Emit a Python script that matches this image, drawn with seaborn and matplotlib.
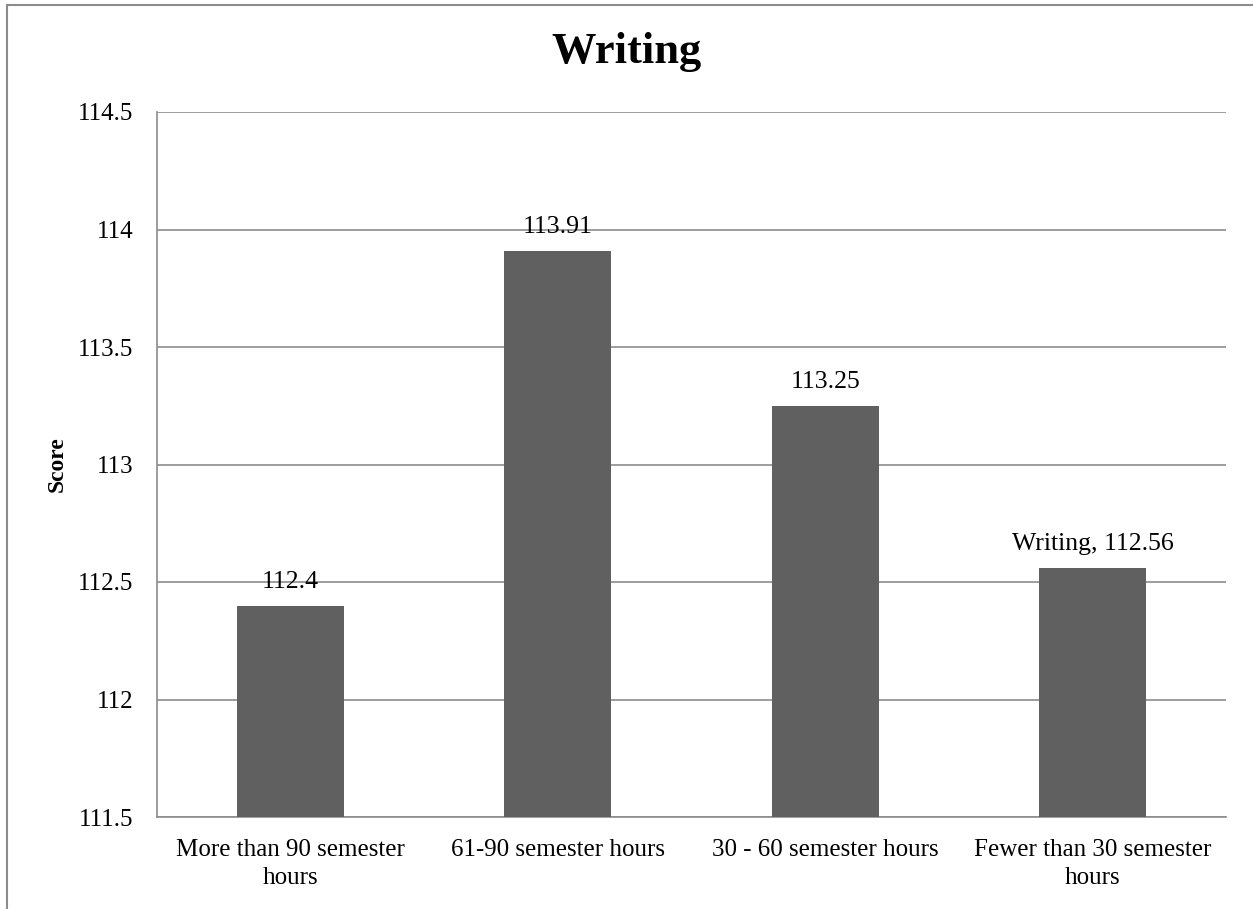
import matplotlib
matplotlib.use("Agg")
import matplotlib.pyplot as plt
from matplotlib.lines import Line2D
import seaborn as sns
import pandas as pd

categories = ["More than 90 semester\nhours", "61-90 semester hours",
              "30 - 60 semester hours", "Fewer than 30 semester\nhours"]
scores = [112.4, 113.91, 113.25, 112.56]
value_labels = ["112.4", "113.91", "113.25", "Writing, 112.56"]
y_ticks = [111.5, 112, 112.5, 113, 113.5, 114, 114.5]
y_tick_labels = ["111.5", "112", "112.5", "113", "113.5", "114", "114.5"]

sns.set_theme(style="white")
plt.rcParams["font.family"] = ["Liberation Serif", "DejaVu Serif"]
plt.rcParams["text.color"] = "black"

df = pd.DataFrame({"category": categories, "score": scores})

fig = plt.figure(figsize=(12.53, 9.09), dpi=100)
ax = fig.add_axes([157 / 1253, 1 - 817 / 909, (1226 - 157) / 1253, (817 - 112) / 909])

sns.barplot(data=df, x="category", y="score", color="#606060", width=0.4,
            saturation=1, linewidth=0, edgecolor="none", ax=ax, zorder=3)

ax.set_ylim(111.5, 114.5)
ax.set_yticks(y_ticks)
ax.set_yticklabels(y_tick_labels)
ax.yaxis.grid(True, color="#8c8c8c", linewidth=1.2, zorder=0)
ax.set_axisbelow(True)
ax.tick_params(axis="both", length=0, labelsize=18, colors="#000000")
ax.tick_params(axis="y", pad=17)
ax.tick_params(axis="x", pad=16)
for lbl in ax.get_xticklabels():
    lbl.set_linespacing(1.35)

for side in ["top", "right"]:
    ax.spines[side].set_visible(False)
for side in ["left", "bottom"]:
    ax.spines[side].set_color("#8c8c8c")
    ax.spines[side].set_linewidth(1.2)

ax.set_xlabel("")
ax.set_ylabel("Score", fontsize=17, fontweight="bold", color="black")
ax.yaxis.set_label_coords((68 - 157) / 1069, 0.5)

for patch, val, txt in zip(ax.patches, scores, value_labels):
    cx = patch.get_x() + patch.get_width() / 2
    ax.annotate(txt, (cx, val), xytext=(0, 9), textcoords="offset points",
                ha="center", va="bottom", fontsize=18.5, color="black")

fig.suptitle("Writing", fontsize=32, fontweight="bold", y=1 - 52 / 909,
             va="center", color="black")

# Outer frame: top and left edges only
fig.add_artist(Line2D([7 / 1253, 1], [1 - 5 / 909, 1 - 5 / 909],
                      transform=fig.transFigure, color="#8c8c8c", linewidth=1.5))
fig.add_artist(Line2D([7 / 1253, 7 / 1253], [0, 1 - 5 / 909],
                      transform=fig.transFigure, color="#8c8c8c", linewidth=1.5))

fig.savefig("out.png", dpi=100)
